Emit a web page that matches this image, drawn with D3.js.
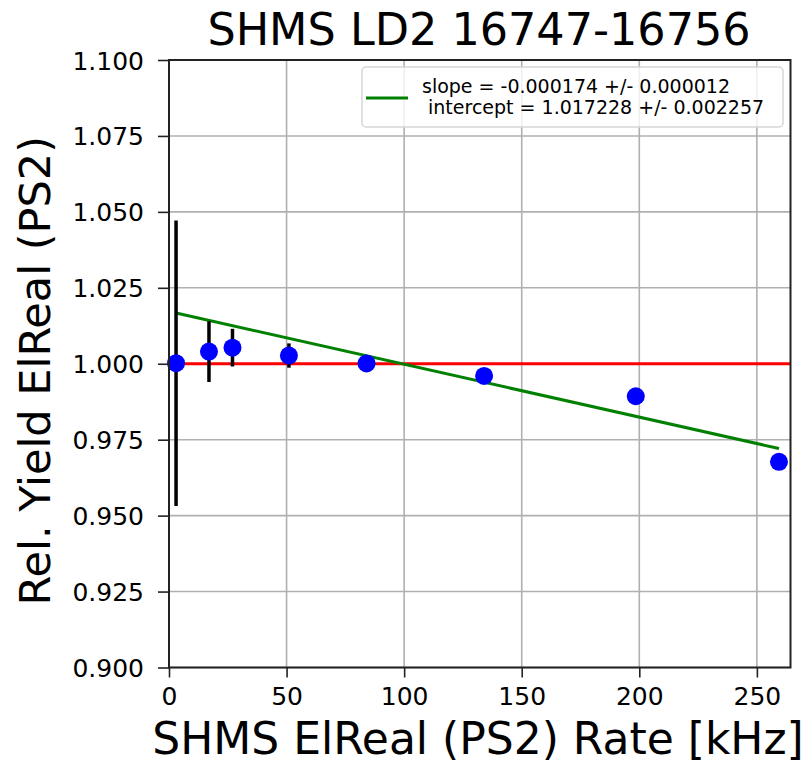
<!DOCTYPE html>
<html>
<head>
<meta charset="utf-8">
<script src="https://cdn.jsdelivr.net/npm/d3@7"></script>
<style>
    body { margin: 0; background: #fff; }
    text { font-family: "DejaVu Sans", sans-serif; fill: #000; }
</style>
</head>
<body>
<svg id="chart"></svg>
<script>
// Measured rate points and relative yields
const rates = [3.0, 17.0, 27.0, 51.0, 84.0, 134.0, 198.5, 259.4];
const yields = [1.0002, 1.0040, 1.0053, 1.0027, 1.0001, 0.9960, 0.9893, 0.9677];
const yieldErrors = [0.0470, 0.0100, 0.0062, 0.0040, 0.0015, 0.0012, 0.0010, 0.0008];

const fitSlope = -0.000174;
const fitIntercept = 1.017228;
const legendLines = ["slope = -0.000174 +/- 0.000012", " intercept = 1.017228 +/- 0.002257"];

const xTicks = [0, 50, 100, 150, 200, 250];
const yTicks = [0.900, 0.925, 0.950, 0.975, 1.000, 1.025, 1.050, 1.075, 1.100];

const frameWidth = 810;
const frameHeight = 767;
const margin = {left: 169, right: 19.5, top: 60, bottom: 99.5};

const svg = d3.select("#chart")
    .attr("width", frameWidth)
    .attr("height", frameHeight);

const x = d3.scaleLinear()
    .domain([0, 264.3])
    .range([margin.left, frameWidth - margin.right]);
const y = d3.scaleLinear()
    .domain([0.9, 1.1])
    .range([frameHeight - margin.bottom, margin.top]);

// Grid lines
const grid = svg.append("g");
grid.selectAll("line.gx")
    .data(xTicks)
    .join("line")
    .attr("class", "gx")
    .attr("x1", d => x(d)).attr("x2", d => x(d))
    .attr("y1", y(0.9)).attr("y2", y(1.1))
    .attr("stroke", "#b0b0b0")
    .attr("stroke-width", 1.6);
grid.selectAll("line.gy")
    .data(yTicks)
    .join("line")
    .attr("class", "gy")
    .attr("x1", x.range()[0]).attr("x2", x.range()[1])
    .attr("y1", d => y(d)).attr("y2", d => y(d))
    .attr("stroke", "#b0b0b0")
    .attr("stroke-width", 1.6);

const plot = svg.append("g");

// Reference line at 1
plot.append("line")
    .attr("x1", x(rates[0])).attr("x2", x.range()[1])
    .attr("y1", y(1)).attr("y2", y(1))
    .attr("stroke", "red")
    .attr("stroke-width", 3);

// Linear fit
plot.append("line")
    .attr("x1", x(rates[0]))
    .attr("x2", x(rates[rates.length - 1]))
    .attr("y1", y(fitIntercept + fitSlope * rates[0]))
    .attr("y2", y(fitIntercept + fitSlope * rates[rates.length - 1]))
    .attr("stroke", "green")
    .attr("stroke-width", 3);

const points = rates.map((r, i) => ({rate: r, value: yields[i], err: yieldErrors[i]}));

// Error bars
plot.selectAll("line.err")
    .data(points)
    .join("line")
    .attr("class", "err")
    .attr("x1", d => x(d.rate)).attr("x2", d => x(d.rate))
    .attr("y1", d => y(d.value - d.err))
    .attr("y2", d => y(d.value + d.err))
    .attr("stroke", "black")
    .attr("stroke-width", 3.5);

// Markers
plot.selectAll("circle")
    .data(points)
    .join("circle")
    .attr("cx", d => x(d.rate))
    .attr("cy", d => y(d.value))
    .attr("r", 9)
    .attr("fill", "blue");

// Axes
const xAxis = svg.append("g")
    .attr("transform", `translate(0,${y(0.9)})`)
    .call(d3.axisBottom(x).tickValues(xTicks).tickFormat(d3.format("d")).tickSize(10).tickPadding(6));
const yAxis = svg.append("g")
    .attr("transform", `translate(${x(0)},0)`)
    .call(d3.axisLeft(y).tickValues(yTicks).tickFormat(d3.format(".3f")).tickSize(11).tickPadding(14));

[xAxis, yAxis].forEach(function (axis) {
    axis.select(".domain").remove();
    axis.selectAll("line").attr("stroke", "#222").attr("stroke-width", 1.6);
    axis.selectAll("text").style("font-size", "25px").attr("fill", "#222");
});
xAxis.selectAll("text").attr("dy", "0.85em");
yAxis.selectAll("text").attr("dy", "0.36em");

// Frame
svg.append("rect")
    .attr("x", x.range()[0]).attr("y", y(1.1))
    .attr("width", x.range()[1] - x.range()[0])
    .attr("height", y(0.9) - y(1.1))
    .attr("fill", "none")
    .attr("stroke", "#222")
    .attr("stroke-width", 2);

// Legend
const legend = svg.append("g");
legend.append("rect")
    .attr("x", 362).attr("y", 67)
    .attr("width", 421).attr("height", 60)
    .attr("rx", 4)
    .attr("fill", "rgba(255,255,255,0.8)")
    .attr("stroke", "#d6d6d6")
    .attr("stroke-width", 1.5);
legend.append("line")
    .attr("x1", 366).attr("x2", 408)
    .attr("y1", 98).attr("y2", 98)
    .attr("stroke", "green")
    .attr("stroke-width", 3);
legend.selectAll("text")
    .data(legendLines)
    .join("text")
    .attr("x", 422)
    .attr("y", (d, i) => 93 + i * 21)
    .attr("xml:space", "preserve")
    .style("font-size", "19px")
    .style("white-space", "pre")
    .attr("fill", "#222")
    .text(d => d);

// Title and axis labels
svg.append("text")
    .attr("x", 479).attr("y", 45)
    .attr("text-anchor", "middle")
    .style("font-size", "44.5px")
    .text("SHMS LD2 16747-16756");
svg.append("text")
    .attr("x", 478).attr("y", 754)
    .attr("text-anchor", "middle")
    .style("font-size", "44px")
    .text("SHMS ElReal (PS2) Rate [kHz]");
svg.append("text")
    .attr("transform", `translate(50,${(y(0.9) + y(1.1)) / 2 + 7}) rotate(-90)`)
    .attr("text-anchor", "middle")
    .style("font-size", "43px")
    .text("Rel. Yield ElReal (PS2)");
</script>
</body>
</html>
